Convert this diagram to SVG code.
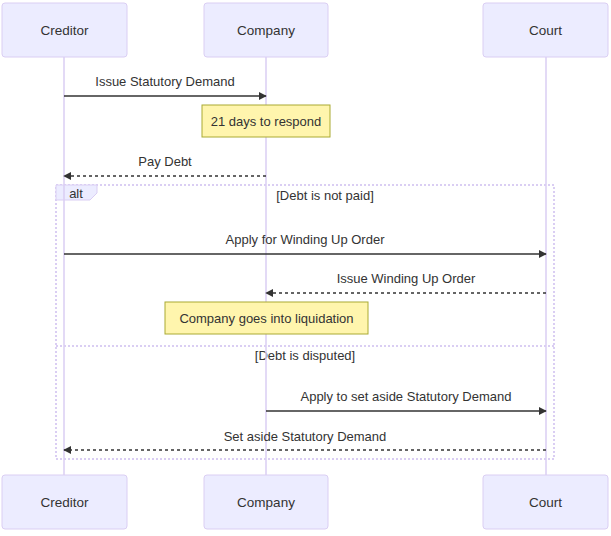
<svg xmlns="http://www.w3.org/2000/svg" width="611" height="536" viewBox="0 0 611 536">
<style>
.actor{fill:#ECECFF;stroke:#DACEF3;stroke-width:1}
.atext{font-family:"Liberation Sans",Arial,sans-serif;font-size:13.5px;fill:#333;text-anchor:middle;dominant-baseline:central}
.life{stroke:#DACEF3;stroke-width:1.5;fill:none}
.msg{stroke:#333;stroke-width:1.5;fill:none}
.dash{stroke-dasharray:3,3}
.mtext{font-family:"Liberation Sans",Arial,sans-serif;font-size:13px;fill:#333;text-anchor:middle;dominant-baseline:central}
.note{fill:#FFF5AD;stroke:#AAAA33;stroke-width:1}
.ntext{font-family:"Liberation Sans",Arial,sans-serif;font-size:13px;fill:#333;text-anchor:middle;dominant-baseline:central}
.loop{fill:none;stroke:#DACEF3;stroke-width:2;stroke-dasharray:2,2}
.lbl{fill:#ECECFF;stroke:#DACEF3;stroke-width:1}
</style>
<defs>
<marker id="ah" viewBox="0 0 10 10" refX="9" refY="5" markerWidth="8" markerHeight="8" markerUnits="userSpaceOnUse" orient="auto-start-reverse">
<path d="M0,0 L10,5 L0,10 z" fill="#333"/>
</marker>
</defs>
<g id="alt-frame">
<rect class="loop" x="56" y="185" width="498" height="274"/>
<line class="loop" x1="56" y1="346" x2="554" y2="346"/>
<polygon class="lbl" points="56,185 97,185 97,193 90,200 56,200"/>
<text class="mtext" x="76" y="193">alt</text>
<text class="mtext" x="325" y="195">[Debt is not paid]</text>
<text class="mtext" x="305" y="355">[Debt is disputed]</text>
</g>
<g id="lifelines">
<line class="life" x1="64" y1="57" x2="64" y2="475"/>
<line class="life" x1="266" y1="57" x2="266" y2="475"/>
<line class="life" x1="546" y1="57" x2="546" y2="475"/>
</g>
<g id="creditor">
<rect class="actor" x="2" y="3" width="125" height="54" rx="3"/>
<text class="atext" x="64.5" y="30">Creditor</text>
<rect class="actor" x="2" y="475" width="125" height="54" rx="3"/>
<text class="atext" x="64.5" y="502">Creditor</text>
</g>
<g id="company">
<rect class="actor" x="204" y="3" width="124" height="54" rx="3"/>
<text class="atext" x="266" y="30">Company</text>
<rect class="actor" x="204" y="475" width="124" height="54" rx="3"/>
<text class="atext" x="266" y="502">Company</text>
</g>
<g id="court">
<rect class="actor" x="483" y="3" width="125" height="54" rx="3"/>
<text class="atext" x="545.5" y="30">Court</text>
<rect class="actor" x="483" y="475" width="125" height="54" rx="3"/>
<text class="atext" x="545.5" y="502">Court</text>
</g>
<g id="note1">
<rect class="note" x="202" y="105" width="128" height="32"/>
<text class="ntext" x="266" y="121">21 days to respond</text>
</g>
<g id="note2">
<rect class="note" x="165" y="302" width="203" height="32"/>
<text class="ntext" x="266.5" y="318">Company goes into liquidation</text>
</g>
<g id="connectors">
<line class="msg" x1="64" y1="96" x2="266" y2="96" marker-end="url(#ah)"/>
<text class="mtext" x="165" y="81">Issue Statutory Demand</text>
<line class="msg dash" x1="266" y1="176" x2="64" y2="176" marker-end="url(#ah)"/>
<text class="mtext" x="165" y="161">Pay Debt</text>
<line class="msg" x1="64" y1="254" x2="546" y2="254" marker-end="url(#ah)"/>
<text class="mtext" x="305" y="239">Apply for Winding Up Order</text>
<line class="msg dash" x1="546" y1="293" x2="266" y2="293" marker-end="url(#ah)"/>
<text class="mtext" x="406" y="278">Issue Winding Up Order</text>
<line class="msg" x1="266" y1="411" x2="546" y2="411" marker-end="url(#ah)"/>
<text class="mtext" x="406" y="396">Apply to set aside Statutory Demand</text>
<line class="msg dash" x1="546" y1="450" x2="64" y2="450" marker-end="url(#ah)"/>
<text class="mtext" x="305" y="436">Set aside Statutory Demand</text>
</g>
</svg>
